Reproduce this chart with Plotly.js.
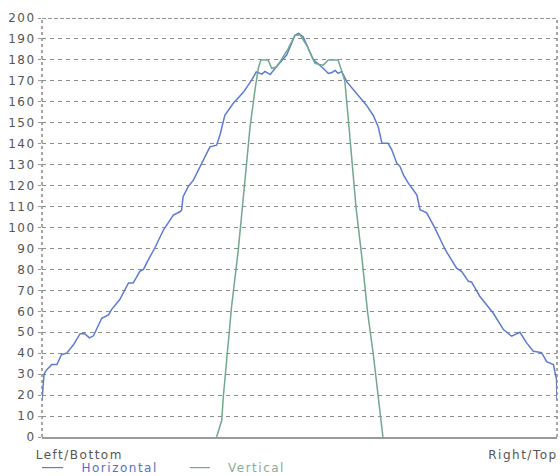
<!DOCTYPE html>
<html>
<head>
<meta charset="utf-8">
<script src="https://cdn.plot.ly/plotly-3.0.1.min.js"></script>
<style>
html,body{margin:0;padding:0;background:#fff;}
#chart{width:560px;height:476px;}
.main-svg text{letter-spacing:1.5px;}
</style>
</head>
<body>
<div id="chart"></div>
<script>
// Position across the profile, 0 = Left/Bottom, 100 = Right/Top
var horizPos = [0,0.4,0.9,1.9,2.9,3.8,4.8,6.1,7.4,8.3,9.2,10.0,11.6,12.9,13.5,15.1,16.8,17.7,19.0,19.7,20.6,21.9,23.6,25.5,26.8,27.1,27.4,28.4,29.4,30.7,32.6,33.9,34.6,35.5,37.1,39.1,40.7,41.6,42.7,43.3,44.3,45.6,47.5,49.1,49.8,50.7,52.0,52.7,54.6,55.6,56.3,56.9,57.5,58.2,59.2,61.1,63.0,64.3,65.3,66.0,67.2,67.9,68.9,69.5,70.2,71.1,72.1,72.8,73.4,74.7,76.3,78.3,80.5,81.5,82.8,83.4,85.0,87.6,89.6,91.2,92.8,94.1,95.4,97.0,98.0,99.3,99.9,100];
var horizVal = [17.5,30,32,34.6,34.6,39.4,40,44,49.3,49.3,47.3,48.3,56.7,58.3,60.8,65.6,73.5,73.5,79.1,80,84.4,90.2,98.9,105.9,107.5,108.3,114.7,119.6,122.6,129.2,138.5,139.3,144.5,153.6,159.2,164.5,170.3,174.3,173.2,174.5,173,177,182.3,191.7,192.6,191,183.9,180,176,173.5,174,175,173.6,174.5,169.5,164,158.4,153.6,148,140.2,140.2,137.2,130.6,129.2,125,121.3,118.1,115.5,108.5,107,99.7,89.4,80.6,79,74.3,74,67.2,59.2,51.3,48.1,50,44.9,40.9,40.3,36,34.6,27.5,17.5];
var vertPos = [33.9,34.9,35.2,35.5,36.1,36.8,38.1,38.9,39.7,40.4,41.4,42.0,42.5,43.9,44.6,45.4,46.2,47.8,49.1,50.1,51.4,53.0,54.6,55.6,57.5,58.2,58.8,59.5,61.0,62.1,63.2,64.3,65.3,66.2];
var vertVal = [0,8,19,27,44,62,89,109,132,148,166.4,176,180,180,176,176.5,179,185.4,191.7,192,187,178.3,177.5,180,180,175,170,151,109,86,60,40,19,0];
var yTicks = [0,10,20,30,40,50,60,70,80,90,100,110,120,130,140,150,160,170,180,190,200];
var seriesNames = ['Horizontal','Vertical'];
var axisLabels = ['Left/Bottom','Right/Top'];

var blue = '#5b7bd5', green = '#72a98d';
var font = {family:'DejaVu Sans', size:12, color:'#555'};

var traces = [
  {x:horizPos, y:horizVal, type:'scatter', mode:'lines', name:seriesNames[0], line:{color:blue, width:1.5}},
  {x:vertPos, y:vertVal, type:'scatter', mode:'lines', name:seriesNames[1], line:{color:green, width:1.5}}
];

var layout = {
  width:560, height:476,
  margin:{l:42, r:3, t:18, b:39},
  paper_bgcolor:'#fff', plot_bgcolor:'#fff',
  showlegend:false,
  font:font,
  xaxis:{range:[0,100], showticklabels:false, showgrid:false, zeroline:false, ticks:'',
         showline:true, linecolor:'#9a9a9a', linewidth:1.5, fixedrange:true},
  yaxis:{range:[0,200], tickvals:yTicks, ticktext:yTicks.map(String), showgrid:true,
         gridcolor:'#8c8c8c', griddash:'4px,4px', gridwidth:1, zeroline:false,
         ticks:'outside', ticklen:3, tickcolor:'#999', tickfont:font, showline:false, fixedrange:true},
  shapes:[
    {type:'line', xref:'paper', yref:'paper', x0:0, x1:0, y0:0, y1:1, line:{color:'#888', width:1.5, dash:'dot'}},
    {type:'line', xref:'paper', yref:'paper', x0:1, x1:1, y0:0, y1:1, line:{color:'#888', width:1.5, dash:'dot'}},
    {type:'line', xref:'paper', yref:'y', x0:0, x1:1, y0:200, y1:200, line:{color:'#777', width:1.5, dash:'4px,2px'}},
    {type:'line', xref:'paper', yref:'paper', x0:0, x1:0.041, y0:-0.073, y1:-0.073, line:{color:blue, width:1.2}},
    {type:'line', xref:'paper', yref:'paper', x0:0.287, x1:0.326, y0:-0.073, y1:-0.073, line:{color:green, width:1.2}}
  ],
  annotations:[
    {xref:'paper', yref:'paper', x:0, y:-0.043, xanchor:'left', yanchor:'middle', text:axisLabels[0], showarrow:false, font:{family:'DejaVu Sans', size:12, color:'#555'}},
    {xref:'paper', yref:'paper', x:1, y:-0.043, xanchor:'right', yanchor:'middle', xshift:-4, text:axisLabels[1], showarrow:false, font:{family:'DejaVu Sans', size:12, color:'#555'}},
    {xref:'paper', yref:'paper', x:0.087, y:-0.073, xanchor:'left', yanchor:'middle', text:seriesNames[0], showarrow:false, font:{family:'DejaVu Sans', size:12, color:'#5a6ec8'}},
    {xref:'paper', yref:'paper', x:0.369, y:-0.073, xanchor:'left', yanchor:'middle', text:seriesNames[1], showarrow:false, font:{family:'DejaVu Sans', size:12, color:'#86ad98'}}
  ]
};

Plotly.newPlot('chart', traces, layout, {staticPlot:true, displayModeBar:false});
</script>
</body>
</html>
